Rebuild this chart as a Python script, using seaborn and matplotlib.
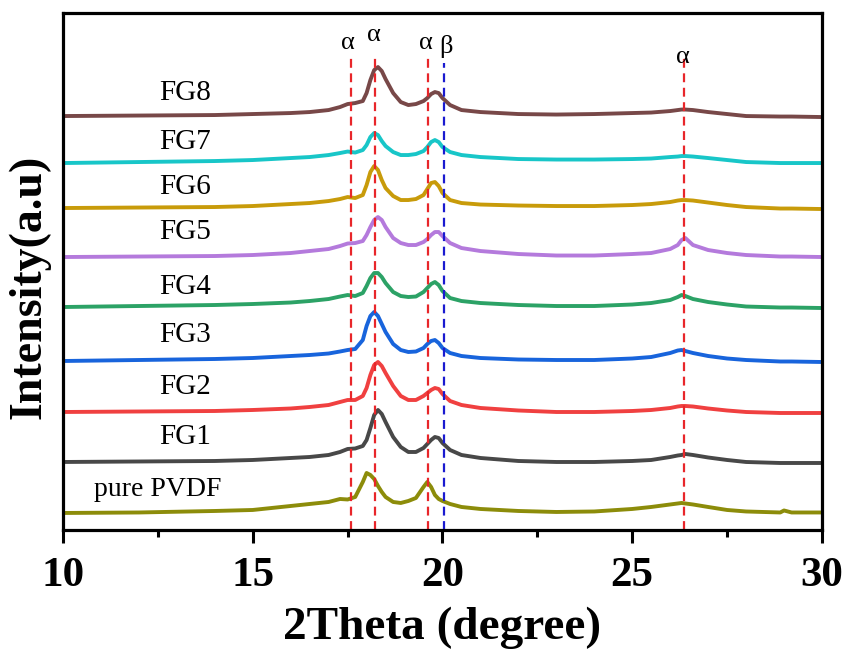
import numpy as np
import pandas as pd
import matplotlib
matplotlib.use('Agg')
import matplotlib.pyplot as plt
from matplotlib.ticker import MultipleLocator
import seaborn as sns

# 2theta sample points (degree)
two_theta = [10, 12, 14, 15, 16, 16.5, 17, 17.3, 17.5, 17.7, 17.9, 18.0, 18.1, 18.2, 18.3,
             18.4, 18.5, 18.7, 18.9, 19.1, 19.3, 19.5, 19.6, 19.7, 19.8, 19.9, 20.0, 20.2,
             20.5, 21, 22, 23, 24, 25, 25.5, 26, 26.2, 26.3, 26.4, 26.6, 27, 27.5, 28,
             28.9, 29.0, 29.2, 30]

# stacked intensities (a.u.)
pvdf = [17, 17.5, 19, 20, 24, 26, 28, 31, 30.5, 33, 48, 57, 55, 51, 44, 38, 33, 28, 27, 29,
        32, 43, 48, 43, 35, 31, 29, 26, 23, 21, 19, 18, 18.5, 21, 23, 25.5, 26.5, 27, 26.5,
        25.5, 23, 20, 18.5, 17.5, 19.5, 17.5, 17.5]
fg1 = [68, 68.5, 69, 70, 72, 73, 75, 78, 81, 81.5, 84, 90, 102, 115, 120, 116, 108, 93, 83,
       78, 78, 82, 86, 90, 93, 92, 87, 80, 75, 72, 69, 68, 68, 69, 70, 73, 74.5, 75, 76, 75,
       72.5, 70, 68, 67, 67, 67, 67]
fg2 = [118, 118.5, 119, 120, 121.5, 123, 125, 128, 130, 130, 134, 142, 155, 165, 168, 164,
       157, 144, 134, 130, 130, 134, 137, 140, 142, 141, 136, 129, 125, 122, 119.5, 118, 118,
       119, 120, 122, 123.5, 124, 124, 123.5, 121.5, 119.5, 118, 117, 117, 117, 117]
fg3 = [169, 170, 171, 172, 174, 175, 176.5, 178.5, 180, 181, 190, 204, 214, 218, 214, 206,
       198, 186, 180, 178, 178.5, 182, 186, 189, 190, 187, 182, 177, 174, 172, 170.5, 170,
       170, 171.5, 173, 177, 179.5, 180, 179, 177, 174, 171.5, 170, 168.5, 168.5, 168.5, 168]
fg4 = [223, 224, 225, 226, 227.5, 229, 231, 233.5, 235, 234, 237, 244, 252, 257, 257, 253,
       247, 238, 234, 233, 233.5, 238, 242, 246, 248, 245, 239, 232, 229, 227, 225, 224, 224,
       225.5, 227, 230, 233, 235, 234, 231, 228, 225.5, 223.5, 222.5, 222.5, 222.5, 222]
fg5 = [273, 273.5, 274, 275, 277, 279, 281, 284, 286.5, 287, 289, 295, 303, 310, 313, 310,
       303, 292, 287, 285, 285, 288, 291, 295, 298, 298, 294, 287, 282, 279, 276, 274.5,
       274.5, 276, 277, 281, 285, 290, 292, 285, 280, 277, 275, 273.5, 273.5, 273.5, 273]
fg6 = [322, 322.5, 323, 324, 326, 327, 329, 331, 333, 332, 335, 345, 358, 364, 360, 350, 342,
       334, 330, 330, 331, 335, 341, 347, 348, 344, 337, 330, 327, 325.5, 324.5, 324, 324,
       325, 326, 328, 329.5, 330, 330, 329.5, 327.5, 325, 323, 321.5, 321.5, 321.5, 321]
fg7 = [367, 368, 369, 370, 372, 373, 375, 377, 378.5, 377.5, 380, 385, 393, 397, 395, 389,
       384, 378, 375, 375, 376, 379, 383, 388, 390, 388, 383, 378, 375, 373, 371, 370.5,
       370.5, 371, 371.5, 373, 373.5, 374, 374, 373.5, 372, 370, 368, 367, 367, 367, 367]
fg8 = [414, 414.5, 415, 416, 417, 418, 420, 423, 426, 427, 429, 437, 450, 460, 463, 459, 451,
       437, 428, 425, 426, 429, 432, 436, 438, 437, 432, 425, 420, 418, 416, 415.5, 416, 417,
       417.5, 419, 420, 420.5, 420.5, 420, 418, 416, 414, 413.5, 413.5, 413.5, 413]

samples = ['pure PVDF', 'FG1', 'FG2', 'FG3', 'FG4', 'FG5', 'FG6', 'FG7', 'FG8']
series = [pvdf, fg1, fg2, fg3, fg4, fg5, fg6, fg7, fg8]
colors = ['#8c8c0a', '#484848', '#f04040', '#1864dc', '#2ca266', '#b47adc',
          '#c89b0a', '#18c6c8', '#784848']

# reference peak positions
alpha_pos = [17.58, 18.21, 19.63, 26.37]
beta_pos = [20.05]

df = pd.DataFrame({
    'two_theta': two_theta * len(samples),
    'intensity': [v for s in series for v in s],
    'sample': [name for name in samples for _ in two_theta],
})

sns.set_style('ticks')
plt.rcParams['font.family'] = ['Liberation Serif', 'DejaVu Serif']
plt.rcParams['text.color'] = 'black'
plt.rcParams['xtick.color'] = 'black'
plt.rcParams['axes.labelcolor'] = 'black'

fig = plt.figure(figsize=(8.48, 6.53), dpi=100)
ax = fig.add_axes([0.0743, 0.1884, 0.895, 0.7916])

sns.lineplot(data=df, x='two_theta', y='intensity', hue='sample', hue_order=samples,
             palette=colors, linewidth=2.8, legend=False, errorbar=None, ax=ax)
for ln in ax.lines:
    ln.set_solid_joinstyle('round')

# dashed peak markers
for xp in alpha_pos:
    ax.plot([xp, xp], [0, 473], color='#e8262a', lw=1.6, ls=(0, (4, 2.5)))
for xp in beta_pos:
    ax.plot([xp, xp], [0, 467], color='#1a1ad0', lw=1.6, ls=(0, (4, 2.5)))

greek = [('α', 17.5, 487), ('α', 18.19, 495), ('α', 19.55, 487), ('β', 20.1, 484), ('α', 26.34, 473)]
for s, xt, yt in greek:
    ax.text(xt, yt, s, fontsize=19, ha='center', va='center')

label_y = [40, 93, 143, 195, 243, 298, 343, 388, 437]
for name, yl in zip(samples, label_y):
    xl = 12.5 if name == 'pure PVDF' else 13.21
    ax.text(xl, yl, name, fontsize=21 if name != 'pure PVDF' else 20, ha='center', va='center')

ax.set_xlim(10, 30)
ax.set_ylim(0, 517)
ax.set_yticks([])
ax.xaxis.set_major_locator(MultipleLocator(5))
ax.xaxis.set_minor_locator(MultipleLocator(2.5))
ax.tick_params(axis='x', which='major', direction='out', length=9.5, width=2.2, pad=10,
               labelsize=31, colors='black')
ax.tick_params(axis='x', which='minor', direction='out', length=5, width=2.2)
for lab in ax.get_xticklabels():
    lab.set_fontweight('bold')
for sp in ax.spines.values():
    sp.set_linewidth(2.3)
    sp.set_color('black')

ax.set_xlabel('2Theta (degree)', fontsize=34, fontweight='bold', labelpad=8)
ax.set_ylabel('Intensity(a.u)', fontsize=33, fontweight='bold', va='center')
ax.yaxis.set_label_coords(-0.044, 0.47)

fig.savefig('out.png', dpi=100)
